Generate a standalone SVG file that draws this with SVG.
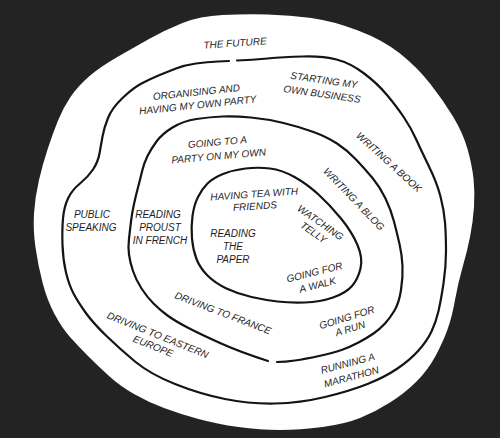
<svg xmlns="http://www.w3.org/2000/svg" width="500" height="438" viewBox="0 0 500 438">
<style>
.ring{fill:none;stroke:#141414;stroke-width:2.2;stroke-linecap:round;stroke-linejoin:round}
text{font-family:"Liberation Sans","Arial",sans-serif;font-style:italic;font-size:10px;fill:#1e1e1e;text-anchor:middle;dominant-baseline:central}
</style>
<rect width="500" height="438" fill="#232323"/>
<g id="blob">
<path fill="#ffffff" d="M182.5,23 Q200,16 222.5,15 Q245,14 267.5,14.5 Q290,15 311.5,18 Q333,21 358,30.5 Q383,40 400,53.5 Q417,67 430,83.5 Q443,100 453,116.5 Q463,133 467.5,149 Q472,165 473.5,178.5 Q475,192 474,207 Q473,222 470,237 Q467,252 462.5,267.5 Q458,283 455,300 Q452,317 447.5,329.5 Q443,342 435.5,356 Q428,370 416.5,381.5 Q405,393 390,402.5 Q375,412 360,418 Q345,424 322.5,427 Q300,430 280,430 Q260,430 238.5,427 Q217,424 198.5,419 Q180,414 164,408 Q148,402 134,394 Q120,386 109,376 Q98,366 88,356 Q78,346 70,337 Q62,328 54.5,314 Q47,300 42.5,282.5 Q38,265 35.5,247.5 Q33,230 34,213.5 Q35,197 39,180 Q43,163 48,148 Q53,133 58,120.5 Q63,108 70.5,97 Q78,86 89,76.5 Q100,67 116.5,57.5 Q133,48 149,39 Q165,30 182.5,23 Z"/>
</g>
<g id="rings">
<path id="ring-outer" class="ring" d="M237,60.5 Q252,60 267.5,58.5 Q283,57 303,56.5 Q323,56 336.5,59.5 Q350,63 363.5,73 Q377,83 387,95 Q397,107 404,117.5 Q411,128 416,139 Q421,150 429,166.5 Q437,183 440.5,196.5 Q444,210 445,222.5 Q446,235 446,251 Q446,267 443.5,283.5 Q441,300 438.5,311 Q436,322 431.5,331.5 Q427,341 418.5,350.5 Q410,360 397.5,368.5 Q385,377 367.5,384 Q350,391 325,397 Q300,403 275,403.5 Q250,404 225,399 Q200,394 175,384 Q150,374 135,361.5 Q120,349 106.5,336 Q93,323 85.5,312.5 Q78,302 73.5,293.5 Q69,285 66,272.5 Q63,260 62.5,245 Q62,230 63,218.5 Q64,207 68,198.5 Q72,190 80,183.5 Q88,177 93,169.5 Q98,162 99.5,153.5 Q101,145 102.5,136.5 Q104,128 108,118 Q112,108 122.5,98 Q133,88 141.5,83.5 Q150,79 158.5,75.5 Q167,72 176,68.5 Q185,65 196,63.5 Q207,62 218,61.5 L229,61"/>
<path id="ring-middle" class="ring" d="M268,361 Q240,352 220,343 Q200,334 187.5,327.5 Q175,321 167.5,315.5 Q160,310 153.5,303.5 Q147,297 141.5,288.5 Q136,280 133,271 Q130,262 129,254.5 Q128,247 129,238.5 Q130,230 131,221.5 Q132,213 134,204 Q136,195 138,187.5 Q140,180 142,171.5 Q144,163 147.5,156 Q151,149 156.5,141.5 Q162,134 172.5,127.5 Q183,121 196.5,119 Q210,117 222.5,116.5 Q235,116 251,117.5 Q267,119 283.5,123 Q300,127 313.5,132 Q327,137 337,143.5 Q347,150 356,159.5 Q365,169 372.5,178 Q380,187 385.5,198.5 Q391,210 394,221.5 Q397,233 399.5,244 Q402,255 402.5,266 Q403,277 401,290 Q399,303 394.5,310.5 Q390,318 385,323.5 Q380,329 373.5,333.5 Q367,338 358.5,342.5 Q350,347 341.5,350 Q333,353 319,356 Q305,359 295,360.5 Q285,362 277,362"/>
<path id="ring-inner" class="ring" d="M207.5,183.5 Q213,178 223,174 Q233,170 245.5,168.5 Q258,167 270,168.5 Q282,170 294.5,177 Q307,184 318.5,194.5 Q330,205 341,218.5 Q352,232 357.5,245 Q363,258 360.5,268.5 Q358,279 352,286 Q346,293 333,297.5 Q320,302 305,302.5 Q290,303 277.5,301.5 Q265,300 251.5,297 Q238,294 226.5,288.5 Q215,283 207.5,275.5 Q200,268 196.5,259 Q193,250 192,238.5 Q191,227 192.5,216 Q194,205 198,197 Q202,189 207.5,183.5 Z"/>
</g>
<g id="the-future" transform="translate(235,43) rotate(-4)"><text x="0" y="0">THE FUTURE</text></g>
<g id="organising" transform="translate(197,98.5) rotate(-6)"><text x="0" y="-6.5">ORGANISING AND</text><text x="0" y="6.5">HAVING MY OWN PARTY</text></g>
<g id="starting" transform="translate(323,87) rotate(8)"><text x="0" y="-7">STARTING MY</text><text x="0" y="7">OWN BUSINESS</text></g>
<g id="writing-book" transform="translate(389,162) rotate(42)"><text x="0" y="0">WRITING A BOOK</text></g>
<g id="public-speaking"><text x="92" y="214">PUBLIC</text><text x="91" y="227">SPEAKING</text></g>
<g id="going-party" transform="translate(218,149) rotate(-5)"><text x="0" y="-7">GOING TO A</text><text x="0" y="7">PARTY ON MY OWN</text></g>
<g id="writing-blog" transform="translate(354,199) rotate(46)"><text x="0" y="0">WRITING A BLOG</text></g>
<g id="proust"><text x="158" y="214">READING</text><text x="160" y="227">PROUST</text><text x="160" y="240">IN FRENCH</text></g>
<g id="tea" transform="translate(254.5,200) rotate(-4)"><text x="0" y="-6">HAVING TEA WITH</text><text x="0" y="6">FRIENDS</text></g>
<g id="telly" transform="translate(317,227.5) rotate(35)"><text x="0" y="-6">WATCHING</text><text x="0" y="6">TELLY</text></g>
<g id="paper"><text x="233" y="233">READING</text><text x="233" y="246.5">THE</text><text x="233" y="259.5">PAPER</text></g>
<g id="walk" transform="translate(316,278.5) rotate(-14)"><text x="0" y="-6.5">GOING FOR</text><text x="0" y="6.5">A WALK</text></g>
<g id="france" transform="translate(223,313) rotate(21)"><text x="0" y="0">DRIVING TO FRANCE</text></g>
<g id="eastern-europe" transform="translate(155.5,340.5) rotate(22)"><text x="0" y="-6">DRIVING TO EASTERN</text><text x="0" y="6">EUROPE</text></g>
<g id="run" transform="translate(348.5,323) rotate(-17)"><text x="0" y="-5.75">GOING FOR</text><text x="0" y="5.75">A RUN</text></g>
<g id="marathon" transform="translate(349.5,370) rotate(-15)"><text x="0" y="-7">RUNNING A</text><text x="0" y="7">MARATHON</text></g>
</svg>
